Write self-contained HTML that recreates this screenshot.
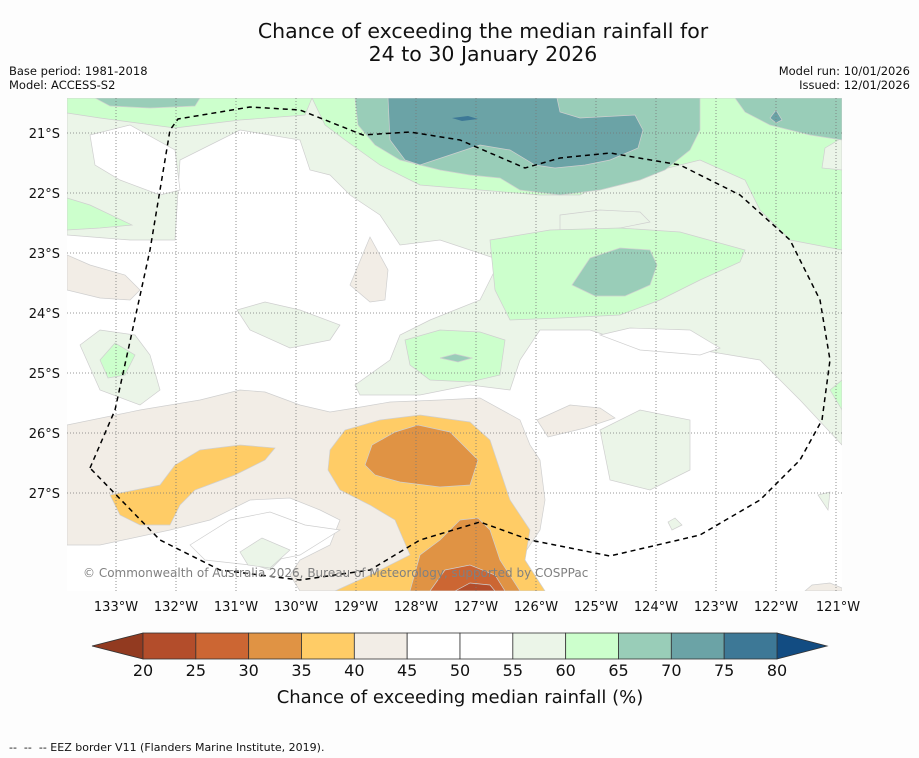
<!DOCTYPE html>
<html><head><meta charset="utf-8"><style>
body{margin:0;background:#fdfdfd;font-family:"Liberation Sans","DejaVu Sans",sans-serif;}
svg{display:block}
</style></head><body>
<svg width="919" height="758" viewBox="0 0 919 758" font-family="DejaVu Sans, Liberation Sans, sans-serif">
<rect width="919" height="758" fill="#fdfdfd"/>
<text x="483" y="38" font-size="20.5" text-anchor="middle" fill="#111">Chance of exceeding the median rainfall for</text>
<text x="483" y="61" font-size="20.5" text-anchor="middle" fill="#111">24 to 30 January 2026</text>
<text x="9" y="75" font-size="11.5" fill="#111">Base period: 1981-2018</text>
<text x="9" y="89" font-size="11.5" fill="#111">Model: ACCESS-S2</text>
<text x="910" y="75" font-size="11.5" text-anchor="end" fill="#111">Model run: 10/01/2026</text>
<text x="910" y="89" font-size="11.5" text-anchor="end" fill="#111">Issued: 12/01/2026</text>

<defs><clipPath id="mc"><rect x="67" y="98" width="775" height="493"/></clipPath></defs>
<g clip-path="url(#mc)" stroke="#cfcfcf" stroke-width="0.7">
<rect x="67" y="98" width="775" height="493" fill="#ffffff" stroke="none"/>
<path fill="#ebf5e8" d="M67,98 L842,98 L842,445 L800,400 L760,360 L700,350 L620,340 L590,330 L540,330 L520,360 L510,390 L470,385 L420,395 L360,395 L355,385 L390,360 L400,335 L430,320 L480,300 L500,260 L440,240 L400,245 L380,215 L350,195 L330,175 L310,170 L300,140 L240,130 L180,160 L175,240 L130,240 L67,235 Z"/>
<path fill="#ffffff" d="M90,135 L130,125 L175,150 L180,190 L160,195 L120,180 L95,165 Z"/>
<path fill="#ffffff" d="M600,335 L630,328 L690,330 L720,348 L700,355 L640,350 Z"/>
<path fill="#ebf5e8" d="M600,430 L640,410 L690,420 L690,470 L650,490 L610,480 Z"/>
<path fill="#ebf5e8" d="M237,310 L265,302 L300,310 L340,325 L330,340 L290,348 L250,330 Z"/>
<path fill="#ebf5e8" d="M80,345 L100,330 L135,335 L150,355 L160,390 L140,405 L100,390 Z"/>
<path fill="#ebf5e8" d="M240,545 L265,535 L290,550 L270,570 L245,562 Z"/>
<path fill="#ebf5e8" d="M668,522 L675,518 L682,525 L672,530 Z"/>
<path fill="#ebf5e8" d="M818,495 L830,492 L828,510 Z"/>
<path fill="#ccffcc" d="M312,98 L842,98 L842,250 L790,240 L760,210 L745,180 L700,160 L660,170 L610,180 L580,195 L540,195 L480,190 L420,185 L380,165 L345,140 L325,125 Z"/>
<path fill="#ebf5e8" d="M825,148 L842,138 L842,170 L822,168 Z"/>
<path fill="#ebf5e8" d="M560,215 L600,210 L640,212 L650,222 L610,230 L560,230 Z"/>
<path fill="#ccffcc" d="M490,240 L550,230 L620,228 L680,232 L745,250 L740,262 L700,280 L660,300 L620,315 L560,318 L510,320 L495,290 Z"/>
<path fill="#ccffcc" d="M405,340 L440,330 L480,332 L505,340 L500,375 L470,382 L430,380 L410,365 Z"/>
<path fill="#ccffcc" d="M67,98 L312,98 L305,115 L240,120 L175,128 L100,118 L67,113 Z"/>
<path fill="#ccffcc" d="M67,198 L90,205 L132,225 L100,228 L67,230 Z"/>
<path fill="#ccffcc" d="M100,360 L115,343 L135,355 L125,375 L108,378 Z"/>
<path fill="#ccffcc" d="M830,390 L842,380 L842,410 Z"/>
<path fill="#99cdb8" d="M355,98 L700,98 L700,130 L690,150 L665,170 L640,180 L600,190 L560,195 L520,190 L500,178 L470,175 L440,170 L400,160 L375,145 L358,125 Z"/>
<path fill="#99cdb8" d="M95,98 L200,98 L195,106 L150,108 L110,106 Z"/>
<path fill="#99cdb8" d="M572,285 L590,258 L620,248 L650,250 L657,265 L650,285 L625,296 L595,296 Z"/>
<path fill="#99cdb8" d="M735,98 L842,98 L842,140 L810,135 L770,125 L745,112 Z"/>
<path fill="#99cdb8" d="M440,358 L455,354 L472,358 L458,362 Z"/>
<path fill="#6ba3a6" d="M388,98 L557,98 L560,112 L580,118 L635,115 L643,130 L638,148 L610,160 L585,165 L555,168 L535,165 L510,150 L480,145 L450,155 L420,165 L405,160 L390,140 Z"/>
<path fill="#6ba3a6" d="M770,118 L776,110 L782,120 L776,123 Z"/>
<path fill="#3d7896" stroke="none" d="M452,118 L468,116 L478,119 L462,121 Z"/>
<path fill="#f2ede6" d="M67,255 L90,265 L125,275 L140,290 L130,300 L100,298 L67,290 Z"/>
<path fill="#f2ede6" d="M350,285 L370,237 L388,270 L385,300 L370,302 Z"/>
<path fill="#f2ede6" d="M67,425 L140,410 L200,400 L240,390 L265,392 L300,405 L330,412 L355,408 L390,402 L440,400 L480,398 L520,420 L530,445 L540,460 L545,500 L540,530 L520,560 L530,591 L300,591 L290,575 L300,560 L330,545 L340,520 L320,510 L290,498 L250,500 L210,520 L170,530 L100,545 L67,545 Z"/>
<path fill="#ffffff" d="M190,545 L230,520 L270,512 L305,525 L340,530 L300,555 L250,565 L205,560 Z"/>
<path fill="#ebf5e8" d="M240,552 L262,538 L290,550 L270,568 L248,565 Z"/>
<path fill="#f2ede6" d="M537,420 L570,405 L600,408 L615,418 L585,428 L548,437 Z"/>
<path fill="#f2ede6" d="M805,591 L812,585 L830,583 L842,588 L842,591 Z"/>
<path fill="#ffcc66" d="M110,495 L160,485 L175,465 L200,450 L240,445 L275,448 L265,460 L235,475 L195,490 L180,505 L170,525 L140,525 L120,515 Z"/>
<path fill="#ffcc66" d="M330,450 L345,430 L380,420 L420,415 L470,422 L490,440 L500,470 L510,500 L530,530 L525,560 L545,591 L335,591 L370,575 L410,555 L395,520 L370,505 L340,490 L328,470 Z"/>
<path fill="#e09344" d="M365,465 L372,445 L395,432 L418,425 L450,432 L478,460 L470,485 L440,487 L400,482 L375,475 Z"/>
<path fill="#e09344" d="M410,591 L420,555 L440,540 L460,520 L478,518 L490,530 L500,560 L520,591 Z"/>
<path fill="#cc6633" d="M430,591 L445,570 L470,565 L495,575 L505,591 Z"/>
<path fill="#b34d2b" d="M455,591 L470,583 L490,585 L495,591 Z"/>
</g>
<g stroke="#777" stroke-width="0.8" stroke-dasharray="1,2">
<line x1="116" y1="98" x2="116" y2="591"/><line x1="176" y1="98" x2="176" y2="591"/><line x1="236" y1="98" x2="236" y2="591"/><line x1="296" y1="98" x2="296" y2="591"/><line x1="356" y1="98" x2="356" y2="591"/><line x1="416" y1="98" x2="416" y2="591"/><line x1="476" y1="98" x2="476" y2="591"/><line x1="536" y1="98" x2="536" y2="591"/><line x1="596" y1="98" x2="596" y2="591"/><line x1="656" y1="98" x2="656" y2="591"/><line x1="716" y1="98" x2="716" y2="591"/><line x1="776" y1="98" x2="776" y2="591"/><line x1="836" y1="98" x2="836" y2="591"/>
<line x1="67" y1="133" x2="842" y2="133"/><line x1="67" y1="193" x2="842" y2="193"/><line x1="67" y1="253" x2="842" y2="253"/><line x1="67" y1="313" x2="842" y2="313"/><line x1="67" y1="373" x2="842" y2="373"/><line x1="67" y1="433" x2="842" y2="433"/><line x1="67" y1="493" x2="842" y2="493"/>
</g>
<path fill="none" stroke="#000" stroke-width="1.5" stroke-dasharray="5,4" d="M90,468 L115,410 L150,250 L170,130 L178,119 L250,107 L300,110 L363,135 L410,132 L460,140 L525,168 L560,158 L610,153 L680,165 L740,195 L790,240 L820,300 L830,360 L822,420 L800,460 L760,500 L700,535 L610,556 L530,540 L480,522 L420,540 L370,570 L300,580 L220,570 L160,540 Z"/>
<text x="83" y="577" font-size="12" fill="#808080">© Commonwealth of Australia 2026, Bureau of Meteorology, supported by COSPPac</text>
<g font-size="13" fill="#111" text-anchor="end">
<text x="60" y="138">21°S</text><text x="60" y="198">22°S</text><text x="60" y="258">23°S</text><text x="60" y="318">24°S</text><text x="60" y="378">25°S</text><text x="60" y="438">26°S</text><text x="60" y="498">27°S</text>
</g>
<g font-size="13" fill="#111" text-anchor="middle">
<text x="116" y="611">133°W</text><text x="176" y="611">132°W</text><text x="236" y="611">131°W</text><text x="296" y="611">130°W</text><text x="356" y="611">129°W</text><text x="416" y="611">128°W</text><text x="476" y="611">127°W</text><text x="536" y="611">126°W</text><text x="596" y="611">125°W</text><text x="656" y="611">124°W</text><text x="716" y="611">123°W</text><text x="776" y="611">122°W</text><text x="838" y="611">121°W</text>
</g>
<g id="cbar"></g>
<text x="460" y="703" font-size="18" text-anchor="middle" fill="#111">Chance of exceeding median rainfall (%)</text>
<text x="9" y="751" font-size="11" fill="#111" xml:space="preserve" style="white-space:pre">--  --  -- EEZ border V11 (Flanders Marine Institute, 2019).</text>
</svg>
<script>
const levels=[20,25,30,35,40,45,50,55,60,65,70,75,80];
const colors=['#b34d2b','#cc6633','#e09344','#ffcc66','#f2ede6','#ffffff','#ffffff','#ebf5e8','#ccffcc','#99cdb8','#6ba3a6','#3d7896'];
const under='#923a20', over='#124c82';
const g=document.getElementById('cbar');const ns='http://www.w3.org/2000/svg';
const x0=143,x1=777,y0=633,h=26;
function xs(v){return x0+(v-levels[0])/(levels[levels.length-1]-levels[0])*(x1-x0);}
function add(tag,a){const e=document.createElementNS(ns,tag);for(const k in a)e.setAttribute(k,a[k]);g.appendChild(e);return e;}
let t=add('polygon',{points:`${x0},${y0} ${x0},${y0+h} 92,${y0+h/2}`,fill:under,stroke:'#333','stroke-width':0.8});


t=add('polygon',{points:`${x1},${y0} ${x1},${y0+h} 827,${y0+h/2}`,fill:over,stroke:'#333','stroke-width':0.8});


colors.forEach((c,i)=>{const a=xs(levels[i]),b=xs(levels[i+1]);
const r=add('rect',{x:a,y:y0,width:b-a,height:h,fill:c,stroke:'#333','stroke-width':0.8});

});
levels.forEach(v=>{const tx=add('text',{x:xs(v),y:676,'font-size':16,'text-anchor':'middle',fill:'#111'});tx.textContent=v;

});
</script>
</body></html>
